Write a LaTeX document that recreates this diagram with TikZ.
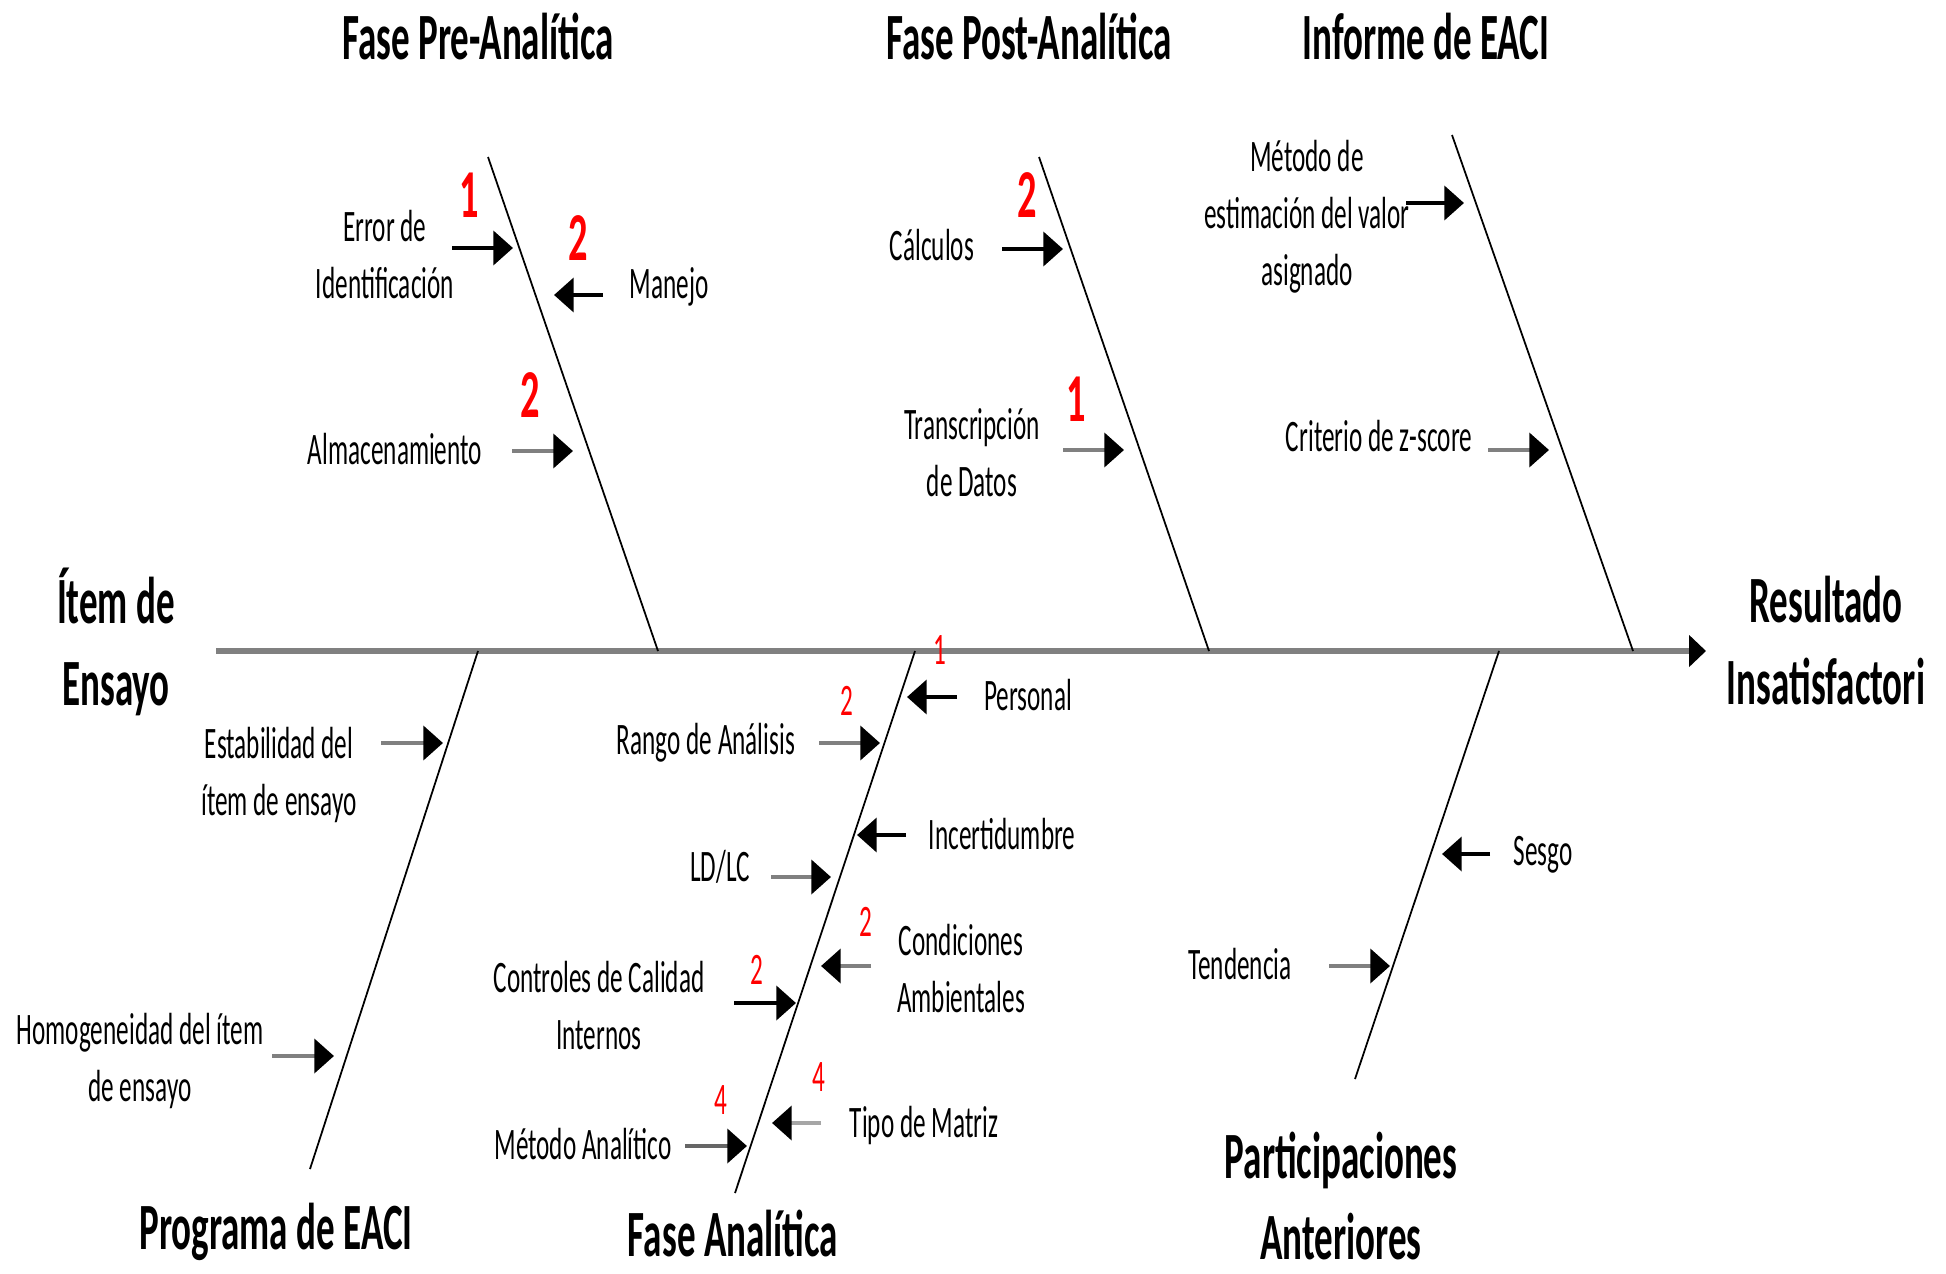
\documentclass[tikz,border=0pt]{standalone}
\usepackage{fontspec}
\setmainfont{Carlito}[FakeStretch=0.56]
\usetikzlibrary{arrows.meta}

\begin{document}
\begin{tikzpicture}[x=0.01cm,y=-0.01cm,
  every node/.style={inner sep=0pt},
  lbl/.style={font=\fontsize{12.8}{16.2}\selectfont,align=center},
  ttl/.style={font=\bfseries\fontsize{18.8}{23.3}\selectfont,align=center},
  big/.style={font=\bfseries\fontsize{19.5}{23.3}\selectfont,text=red},
  sml/.style={font=\fontsize{12.8}{16.2}\selectfont,text=red},
  bone/.style={line width=0.5pt},
  spine/.style={line width=1.6pt,draw=black!50,-{Triangle[length=4.8pt,width=8.8pt,color=black]}},
  cause/.style={line width=1.35pt,-{Triangle[length=5.6pt,width=9.6pt,color=black]}}]

\useasboundingbox (0,0) rectangle (1946,1273);

% spine
\coordinate (s0) at (216,651);
\coordinate (s1) at (1706,651);
\draw[spine] (s0) -- (s1);

% bones
\coordinate (b1) at (488,157); \coordinate (b1s) at (658,651);
\coordinate (b2) at (1039,157); \coordinate (b2s) at (1209,651);
\coordinate (b3) at (1452,135); \coordinate (b3s) at (1633,651);
\coordinate (b4) at (310,1169); \coordinate (b4s) at (478,651);
\coordinate (b5) at (735,1193); \coordinate (b5s) at (915,651);
\coordinate (b6) at (1355,1079); \coordinate (b6s) at (1499,651);
\draw[bone] (b1) -- (b1s);
\draw[bone] (b2) -- (b2s);
\draw[bone] (b3) -- (b3s);
\draw[bone] (b4) -- (b4s);
\draw[bone] (b5) -- (b5s);
\draw[bone] (b6) -- (b6s);

% titles
\node[ttl,anchor=base] (pre) at (478,60) {Fase Pre-Analítica};
\node[ttl,anchor=base] (post) at (1029,60) {Fase Post-Analítica};
\node[ttl,anchor=base] (inf) at (1426,60) {Informe de EACI};
\node[ttl] (item) at (116,642) {Ítem de\\Ensayo};
\node[ttl] (res) at (1826,641) {Resultado\\Insatisfactori};
\node[ttl,anchor=base] (prog) at (276,1249) {Programa de EACI};
\node[ttl,anchor=base] (ana) at (733,1256) {Fase Analítica};
\node[ttl] (par) at (1341,1196) {Participaciones\\Anteriores};

% fase pre-analitica
\node[lbl] (err) at (385,255) {Error de\\Identificación};
\coordinate (err0) at (452,248); \coordinate (err1) at (513,248);
\draw[cause] (err0) -- (err1);
\node[big,anchor=base] (nerr) at (469,218) {1};
\node[lbl,anchor=base] (man) at (669,298) {Manejo};
\coordinate (man0) at (603,295); \coordinate (man1) at (554,295);
\draw[cause] (man0) -- (man1);
\node[big,anchor=base] (nman) at (578,261) {2};
\node[lbl,anchor=base] (alm) at (395,464) {Almacenamiento};
\coordinate (alm0) at (512,451); \coordinate (alm1) at (573,451);
\draw[cause,draw=black!50] (alm0) -- (alm1);
\node[big,anchor=base] (nalm) at (530,417) {2};

% fase post-analitica
\node[lbl,anchor=base] (cal) at (932,260) {Cálculos};
\coordinate (cal0) at (1002,249); \coordinate (cal1) at (1063,249);
\draw[cause] (cal0) -- (cal1);
\node[big,anchor=base] (ncal) at (1027,218) {2};
\node[lbl] (tra) at (972,453) {Transcripción\\de Datos};
\coordinate (tra0) at (1063,450); \coordinate (tra1) at (1124,450);
\draw[cause,draw=black!50] (tra0) -- (tra1);
\node[big,anchor=base] (ntra) at (1076,421) {1};

% informe de EACI
\node[lbl] (met) at (1307,217) {Método de\\estimación del valor\\asignado};
\coordinate (met0) at (1406,203); \coordinate (met1) at (1464,203);
\draw[cause] (met0) -- (met1);
\node[lbl,anchor=base] (zsc) at (1379,451) {Criterio de z-score};
\coordinate (zsc0) at (1488,450); \coordinate (zsc1) at (1549,450);
\draw[cause,draw=black!50] (zsc0) -- (zsc1);

% programa de EACI
\node[lbl] (est) at (279,775) {Estabilidad del\\ítem de ensayo};
\coordinate (est0) at (381,743); \coordinate (est1) at (443,743);
\draw[cause,draw=black!50] (est0) -- (est1);
\node[lbl] (hom) at (140,1061) {Homogeneidad del ítem\\de ensayo};
\coordinate (hom0) at (272,1056); \coordinate (hom1) at (334,1056);
\draw[cause,draw=black!50] (hom0) -- (hom1);

% fase analitica
\node[lbl,anchor=base] (per) at (1028,710) {Personal};
\coordinate (per0) at (957,697); \coordinate (per1) at (907,697);
\draw[cause] (per0) -- (per1);
\node[sml,anchor=base] (nper) at (940,664) {1};
\node[lbl,anchor=base] (ran) at (706,754) {Rango de Análisis};
\coordinate (ran0) at (819,743); \coordinate (ran1) at (880,743);
\draw[cause,draw=black!50] (ran0) -- (ran1);
\node[sml,anchor=base] (nran) at (847,715) {2};
\node[lbl,anchor=base] (inc) at (1002,849) {Incertidumbre};
\coordinate (inc0) at (906,835); \coordinate (inc1) at (857,835);
\draw[cause] (inc0) -- (inc1);
\node[lbl,anchor=base] (ldl) at (720,881) {LD/LC};
\coordinate (ldl0) at (771,877); \coordinate (ldl1) at (831,877);
\draw[cause,draw=black!50] (ldl0) -- (ldl1);
\node[lbl] (con) at (961,969) {Condiciones\\Ambientales};
\coordinate (con0) at (871,966); \coordinate (con1) at (821,966);
\draw[cause,draw=black!50] (con0) -- (con1);
\node[sml,anchor=base] (ncon) at (866,936) {2};
\node[lbl] (ctl) at (599,1006) {Controles de Calidad\\Internos};
\coordinate (ctl0) at (734,1003); \coordinate (ctl1) at (796,1003);
\draw[cause] (ctl0) -- (ctl1);
\node[sml,anchor=base] (nctl) at (757,984) {2};
\node[lbl,anchor=base] (mat) at (924,1137) {Tipo de Matriz};
\coordinate (mat0) at (821,1123); \coordinate (mat1) at (772,1123);
\draw[cause,draw=black!35] (mat0) -- (mat1);
\node[sml,anchor=base] (nmat) at (819,1091) {4};
\node[lbl,anchor=base] (mea) at (583,1159) {Método Analítico};
\coordinate (mea0) at (685,1146); \coordinate (mea1) at (747,1146);
\draw[cause,draw=black!60] (mea0) -- (mea1);
\node[sml,anchor=base] (nmea) at (721,1114) {4};

% participaciones anteriores
\node[lbl,anchor=base] (ses) at (1543,865) {Sesgo};
\coordinate (ses0) at (1490,854); \coordinate (ses1) at (1442,854);
\draw[cause] (ses0) -- (ses1);
\node[lbl,anchor=base] (ten) at (1240,979) {Tendencia};
\coordinate (ten0) at (1329,966); \coordinate (ten1) at (1390,966);
\draw[cause,draw=black!50] (ten0) -- (ten1);

\end{tikzpicture}
\end{document}
